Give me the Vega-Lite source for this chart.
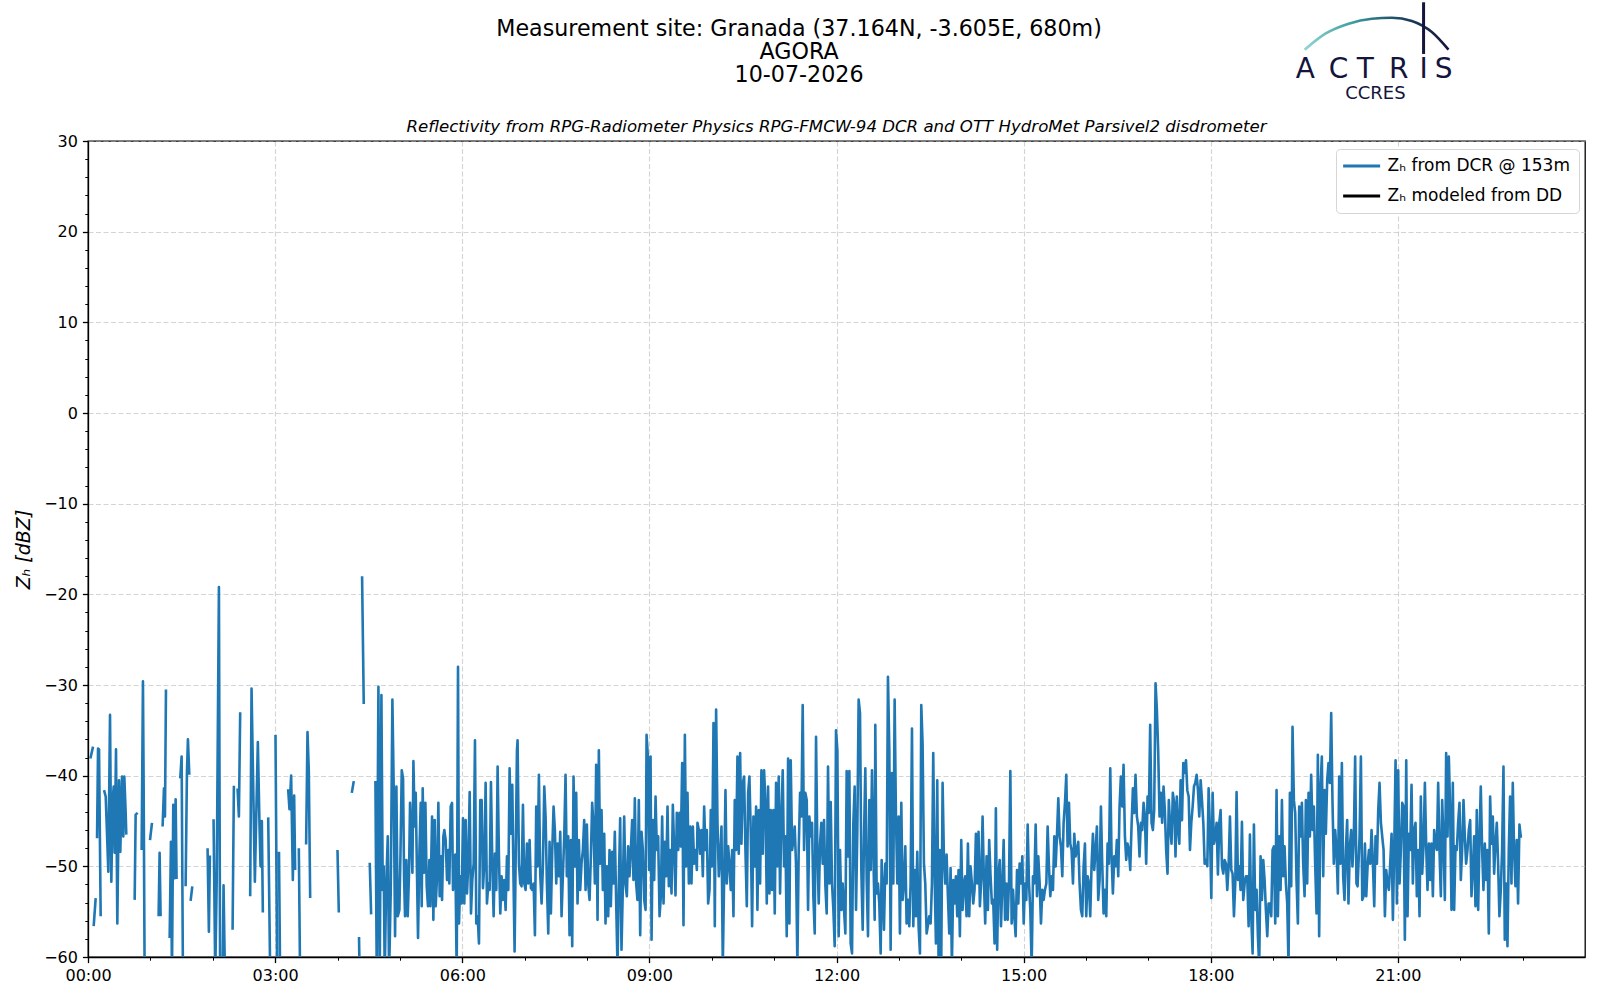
{
  "$schema": "https://vega.github.io/schema/vega-lite/v6.json",
  "description": "Radar reflectivity time series, Granada AGORA, 10-07-2026.",
  "background": "white",
  "autosize": {"type": "none"},
  "width": 1497,
  "height": 816,
  "padding": {"left": 88, "top": 141, "right": 15, "bottom": 43},
  "config": {
    "font": "DejaVu Sans",
    "view": {"stroke": "#000000", "strokeWidth": 1.3},
    "axis": {
      "domainColor": "#000000",
      "domainWidth": 1.3,
      "tickColor": "#000000",
      "tickWidth": 1.3,
      "tickSize": 5.6,
      "labelFont": "DejaVu Sans",
      "labelFontSize": 16,
      "labelColor": "#000000",
      "labelPadding": 5,
      "gridColor": "#b0b0b0",
      "gridOpacity": 0.55,
      "gridDash": [5, 2.5],
      "gridWidth": 1.1,
      "titleColor": "#000000",
      "titleFont": "DejaVu Sans"
    },
    "text": {"font": "DejaVu Sans"}
  },
  "resolve": {"axis": {"x": "independent", "y": "independent"}},
  "datasets": {
    "zh": [
      {"h":0.038,"z":-38.1},{"h":0.081,"z":-36.8},{"h":0.085,"z":null},
      {"h":0.091,"z":-56.6},{"h":0.123,"z":-53.5},{"h":0.13,"z":null},
      {"h":0.145,"z":-46.9},{"h":0.161,"z":-37.0},{"h":0.177,"z":-37.1},{"h":0.203,"z":-55.5},{"h":0.23,"z":null},
      {"h":0.257,"z":-41.6},{"h":0.284,"z":-42.3},{"h":0.326,"z":-50.6},{"h":0.353,"z":-33.3},{"h":0.374,"z":-51.7},{"h":0.396,"z":-42.7},{"h":0.412,"z":-41.2},{"h":0.428,"z":-48.5},{"h":0.449,"z":-37.1},{"h":0.47,"z":-56.3},{"h":0.497,"z":-40.5},{"h":0.518,"z":-48.4},{"h":0.545,"z":-40.1},{"h":0.566,"z":-46.7},{"h":0.582,"z":-40.1},{"h":0.604,"z":-44.1},{"h":0.614,"z":-46.5},{"h":0.68,"z":null},
      {"h":0.748,"z":-53.7},{"h":0.764,"z":-44.3},{"h":0.796,"z":-44.1},{"h":0.83,"z":null},
      {"h":0.86,"z":-48.2},{"h":0.881,"z":-29.6},{"h":0.892,"z":-41.0},{"h":0.908,"z":-62},{"h":0.95,"z":null},
      {"h":0.994,"z":-47.1},{"h":1.026,"z":-45.2},{"h":1.08,"z":null},
      {"h":1.132,"z":-55.5},{"h":1.148,"z":-48.5},{"h":1.164,"z":-55.5},{"h":1.18,"z":null},
      {"h":1.196,"z":-45.6},{"h":1.218,"z":-41.4},{"h":1.234,"z":-44.5},{"h":1.25,"z":-30.5},{"h":1.28,"z":null},
      {"h":1.309,"z":-57.9},{"h":1.33,"z":-47.3},{"h":1.346,"z":-62},{"h":1.367,"z":-43.2},{"h":1.389,"z":-51.3},{"h":1.405,"z":-42.6},{"h":1.42,"z":-51.4},{"h":1.45,"z":null},
      {"h":1.479,"z":-40.3},{"h":1.501,"z":-37.9},{"h":1.522,"z":-62},{"h":1.54,"z":null},
      {"h":1.565,"z":-52.2},{"h":1.586,"z":-39.7},{"h":1.602,"z":-36.0},{"h":1.624,"z":-39.9},{"h":1.635,"z":null},
      {"h":1.645,"z":-53.8},{"h":1.672,"z":-52.2},{"h":1.8,"z":null},
      {"h":1.917,"z":-48.0},{"h":1.938,"z":-57.2},{"h":1.954,"z":-48.8},{"h":1.98,"z":null},
      {"h":2.013,"z":-44.8},{"h":2.04,"z":-62},{"h":2.063,"z":-51.8},{"h":2.099,"z":-19.2},{"h":2.118,"z":-62},{"h":2.14,"z":null},
      {"h":2.16,"z":-62},{"h":2.173,"z":-52.1},{"h":2.195,"z":-62},{"h":2.25,"z":null},
      {"h":2.318,"z":-57.0},{"h":2.339,"z":-41.1},{"h":2.37,"z":null},
      {"h":2.398,"z":-41.4},{"h":2.419,"z":-44.5},{"h":2.44,"z":-33.0},{"h":2.5,"z":null},
      {"h":2.6,"z":-53.3},{"h":2.622,"z":-30.4},{"h":2.675,"z":-51.7},{"h":2.723,"z":-36.3},{"h":2.75,"z":-45.6},{"h":2.766,"z":-50.0},{"h":2.787,"z":-45.0},{"h":2.803,"z":-55.1},{"h":2.85,"z":null},
      {"h":2.889,"z":-44.6},{"h":2.921,"z":-62},{"h":2.96,"z":null},
      {"h":3.006,"z":-35.5},{"h":3.033,"z":-62},{"h":3.05,"z":null},
      {"h":3.062,"z":-48.4},{"h":3.08,"z":-62},{"h":3.15,"z":null},
      {"h":3.209,"z":-41.5},{"h":3.23,"z":-43.7},{"h":3.257,"z":-40.0},{"h":3.284,"z":-51.5},{"h":3.305,"z":-42.2},{"h":3.321,"z":-50.4},{"h":3.35,"z":null},
      {"h":3.38,"z":-48.0},{"h":3.4,"z":-62},{"h":3.45,"z":null},
      {"h":3.497,"z":-47.6},{"h":3.519,"z":-35.2},{"h":3.54,"z":-39.5},{"h":3.562,"z":-53.5},{"h":3.7,"z":null},
      {"h":4.0,"z":-48.2},{"h":4.021,"z":-55.1},{"h":4.1,"z":null},
      {"h":4.229,"z":-41.9},{"h":4.261,"z":-40.6},{"h":4.3,"z":null},
      {"h":4.345,"z":-57.8},{"h":4.355,"z":-62},{"h":4.37,"z":null},
      {"h":4.394,"z":-18.0},{"h":4.421,"z":-32.1},{"h":4.47,"z":null},
      {"h":4.517,"z":-49.6},{"h":4.539,"z":-55.3},{"h":4.58,"z":null},
      {"h":4.608,"z":-40.6},{"h":4.629,"z":-62},{"h":4.656,"z":-30.2},{"h":4.677,"z":-62},{"h":4.704,"z":-31.1},{"h":4.725,"z":-52.6},{"h":4.741,"z":-50.0},{"h":4.757,"z":-62},{"h":4.779,"z":-52.6},{"h":4.806,"z":-46.7},{"h":4.827,"z":-62},{"h":4.854,"z":-52.6},{"h":4.88,"z":-31.6},{"h":4.902,"z":-41.7},{"h":4.923,"z":-57.7},{"h":4.944,"z":-41.2},{"h":4.966,"z":-55.5},{"h":4.992,"z":-54.8},{"h":5.008,"z":-49.3},{"h":5.03,"z":-39.4},{"h":5.051,"z":-40.3},{"h":5.067,"z":-51.1},{"h":5.083,"z":-55.5},{"h":5.104,"z":-49.3},{"h":5.126,"z":-55.5},{"h":5.147,"z":-50.7},{"h":5.163,"z":-43.0},{"h":5.179,"z":-46.0},{"h":5.201,"z":-50.7},{"h":5.217,"z":-38.4},{"h":5.238,"z":-45.6},{"h":5.254,"z":-41.9},{"h":5.275,"z":-51.1},{"h":5.291,"z":-57.9},{"h":5.313,"z":-48.5},{"h":5.334,"z":-43.0},{"h":5.35,"z":-54.4},{"h":5.366,"z":-41.4},{"h":5.387,"z":-50.7},{"h":5.409,"z":-43.0},{"h":5.43,"z":-52.2},{"h":5.451,"z":-54.4},{"h":5.473,"z":-49.3},{"h":5.489,"z":-54.4},{"h":5.516,"z":-44.5},{"h":5.537,"z":-55.9},{"h":5.558,"z":-44.9},{"h":5.574,"z":-54.4},{"h":5.596,"z":-51.1},{"h":5.617,"z":-43.0},{"h":5.638,"z":-53.3},{"h":5.66,"z":-48.9},{"h":5.676,"z":-53.7},{"h":5.697,"z":-46.7},{"h":5.713,"z":-46.0},{"h":5.734,"z":-47.1},{"h":5.756,"z":-51.5},{"h":5.777,"z":-48.2},{"h":5.793,"z":-51.9},{"h":5.815,"z":-43.4},{"h":5.836,"z":-43.0},{"h":5.852,"z":-52.6},{"h":5.873,"z":-49.3},{"h":5.889,"z":-48.7},{"h":5.911,"z":-62},{"h":5.932,"z":-28.0},
      {"h":5.948,"z":-56.3},{"h":5.969,"z":-51.1},{"h":5.99,"z":-54.1},{"h":6.012,"z":-44.7},{"h":6.033,"z":-54.1},{"h":6.055,"z":-44.9},{"h":6.076,"z":-53.0},{"h":6.097,"z":-49.7},{"h":6.119,"z":-41.8},{"h":6.14,"z":-55.2},{"h":6.161,"z":-51.5},{"h":6.183,"z":-49.7},{"h":6.204,"z":-36.1},{"h":6.225,"z":-56.3},{"h":6.247,"z":-55.5},{"h":6.268,"z":-58.5},{"h":6.289,"z":-42.7},{"h":6.311,"z":-42.7},{"h":6.332,"z":-52.4},{"h":6.354,"z":-49.7},{"h":6.375,"z":-40.8},{"h":6.396,"z":-54.1},{"h":6.418,"z":-51.9},{"h":6.439,"z":-52.6},{"h":6.46,"z":-40.7},{"h":6.482,"z":-49.7},{"h":6.503,"z":-55.5},{"h":6.524,"z":-48.6},{"h":6.546,"z":-52.6},{"h":6.567,"z":-39.0},{"h":6.588,"z":-48.9},{"h":6.61,"z":-55.2},{"h":6.631,"z":-51.1},{"h":6.652,"z":-53.7},{"h":6.674,"z":-51.5},{"h":6.695,"z":-54.8},{"h":6.717,"z":-48.9},{"h":6.738,"z":-52.6},{"h":6.759,"z":-39.2},{"h":6.781,"z":-46.4},{"h":6.802,"z":-41.0},{"h":6.823,"z":-51.9},{"h":6.839,"z":-59.4},{"h":6.855,"z":-50.0},{"h":6.877,"z":-37.2},{"h":6.887,"z":-36.1},{"h":6.909,"z":-49.7},{"h":6.93,"z":-51.9},{"h":6.951,"z":-52.2},{"h":6.973,"z":-43.2},{"h":6.994,"z":-51.9},{"h":7.016,"z":-52.6},{"h":7.037,"z":-47.5},{"h":7.058,"z":-51.9},{"h":7.08,"z":-47.1},{"h":7.101,"z":-52.4},{"h":7.122,"z":-52.6},{"h":7.144,"z":-51.9},{"h":7.165,"z":-57.6},{"h":7.186,"z":-43.4},{"h":7.208,"z":-50.0},{"h":7.229,"z":-39.9},{"h":7.25,"z":-50.8},{"h":7.272,"z":-54.1},{"h":7.293,"z":-50.0},{"h":7.315,"z":-41.2},{"h":7.336,"z":-44.5},{"h":7.357,"z":-51.9},{"h":7.379,"z":-57.4},{"h":7.4,"z":-47.3},{"h":7.421,"z":-55.2},{"h":7.443,"z":-48.2},{"h":7.464,"z":-43.4},{"h":7.485,"z":-46.0},{"h":7.507,"z":-51.9},{"h":7.528,"z":-47.5},{"h":7.549,"z":-51.1},{"h":7.571,"z":-46.2},{"h":7.592,"z":-55.5},{"h":7.613,"z":-51.1},{"h":7.635,"z":-46.7},{"h":7.656,"z":-39.9},{"h":7.677,"z":-51.1},{"h":7.699,"z":-46.7},{"h":7.72,"z":-57.6},{"h":7.742,"z":-47.1},{"h":7.763,"z":-58.8},{"h":7.784,"z":-40.1},{"h":7.806,"z":-50.0},{"h":7.827,"z":-41.9},{"h":7.848,"z":-54.1},{"h":7.87,"z":-47.1},{"h":7.891,"z":-52.6},{"h":7.912,"z":-49.7},{"h":7.934,"z":-48.2},{"h":7.955,"z":-44.9},{"h":7.977,"z":-52.6},{"h":7.998,"z":-45.4},{"h":8.019,"z":-51.9},{"h":8.041,"z":-53.7},{"h":8.062,"z":-48.9},{"h":8.083,"z":-43.0},{"h":8.105,"z":-45.6},{"h":8.126,"z":-51.9},{"h":8.147,"z":-38.8},{"h":8.169,"z":-55.9},{"h":8.19,"z":-37.2},{"h":8.211,"z":-49.7},{"h":8.233,"z":-43.8},{"h":8.254,"z":-52.6},{"h":8.276,"z":-46.4},{"h":8.297,"z":-56.3},{"h":8.318,"z":-50.0},{"h":8.34,"z":-55.5},{"h":8.361,"z":-48.2},{"h":8.382,"z":-54.4},{"h":8.404,"z":-48.4},{"h":8.425,"z":-51.9},{"h":8.446,"z":-46.2},{"h":8.468,"z":-54.1},{"h":8.489,"z":-61},{"h":8.51,"z":-51.9},{"h":8.532,"z":-44.7},{"h":8.553,"z":-59.2},{"h":8.575,"z":-52.2},{"h":8.596,"z":-44.5},{"h":8.617,"z":-51.9},{"h":8.639,"z":-53.3},{"h":8.66,"z":-47.8},{"h":8.681,"z":-51.1},{"h":8.703,"z":-48.2},{"h":8.724,"z":-44.9},{"h":8.745,"z":-51.5},{"h":8.767,"z":-42.5},{"h":8.788,"z":-51.9},{"h":8.809,"z":-53.7},{"h":8.831,"z":-42.7},
      {"h":8.853,"z":-57.6},{"h":8.874,"z":-46.2},{"h":8.896,"z":-48.2},{"h":8.917,"z":-53.7},{"h":8.939,"z":-54.8},{"h":8.955,"z":-35.5},{"h":8.976,"z":-37.9},{"h":8.997,"z":-50.4},{"h":9.019,"z":-37.9},{"h":9.035,"z":-58.1},{"h":9.056,"z":-44.9},{"h":9.077,"z":-51.5},{"h":9.099,"z":-42.3},{"h":9.12,"z":-48.2},{"h":9.141,"z":-46.7},{"h":9.163,"z":-55.5},{"h":9.184,"z":-53.3},{"h":9.205,"z":-44.5},{"h":9.227,"z":-54.1},{"h":9.248,"z":-47.3},{"h":9.27,"z":-51.1},{"h":9.291,"z":-43.4},{"h":9.312,"z":-52.2},{"h":9.334,"z":-48.2},{"h":9.355,"z":-53.0},{"h":9.376,"z":-43.2},{"h":9.398,"z":-48.2},{"h":9.419,"z":-53.2},{"h":9.44,"z":-44.1},{"h":9.462,"z":-48.2},{"h":9.483,"z":-44.1},{"h":9.504,"z":-47.8},{"h":9.526,"z":-38.6},{"h":9.547,"z":-56.5},{"h":9.569,"z":-35.5},{"h":9.59,"z":-50.0},{"h":9.611,"z":-41.9},{"h":9.633,"z":-51.9},{"h":9.654,"z":-45.6},{"h":9.675,"z":-51.9},{"h":9.697,"z":-45.6},{"h":9.718,"z":-49.7},{"h":9.739,"z":-48.2},{"h":9.761,"z":-50.4},{"h":9.771,"z":-45.2},{"h":9.793,"z":-46.0},{"h":9.814,"z":-48.6},{"h":9.835,"z":-46.0},{"h":9.857,"z":-51.1},{"h":9.878,"z":-43.4},{"h":9.9,"z":-48.2},{"h":9.921,"z":-46.0},{"h":9.942,"z":-54.1},{"h":9.964,"z":-52.6},{"h":9.985,"z":-43.8},{"h":10.006,"z":-50.0},{"h":10.028,"z":-34.2},{"h":10.049,"z":-56.6},{"h":10.07,"z":-32.7},{"h":10.092,"z":-45.2},{"h":10.113,"z":-51.1},{"h":10.134,"z":-48.9},{"h":10.156,"z":-45.6},{"h":10.177,"z":-61},{"h":10.199,"z":-51.1},{"h":10.22,"z":-41.6},{"h":10.241,"z":-51.9},{"h":10.263,"z":-47.8},{"h":10.284,"z":-49.7},{"h":10.305,"z":-52.6},{"h":10.327,"z":-48.2},{"h":10.348,"z":-55.5},{"h":10.369,"z":-42.7},{"h":10.391,"z":-48.2},{"h":10.412,"z":-37.9},{"h":10.433,"z":-48.6},{"h":10.455,"z":-37.5},{"h":10.476,"z":-47.5},{"h":10.497,"z":-40.8},{"h":10.519,"z":-40.1},{"h":10.54,"z":-48.2},{"h":10.562,"z":-54.4},{"h":10.583,"z":-41.9},{"h":10.604,"z":-40.1},{"h":10.626,"z":-46.4},{"h":10.647,"z":-56.6},{"h":10.668,"z":-44.5},{"h":10.69,"z":-50.0},{"h":10.711,"z":-43.4},{"h":10.732,"z":-54.8},{"h":10.754,"z":-43.8},{"h":10.775,"z":-51.9},{"h":10.796,"z":-39.4},{"h":10.818,"z":-48.6},{"h":10.839,"z":-39.4},{"h":10.861,"z":-43.0},{"h":10.882,"z":-54.1},{"h":10.903,"z":-41.2},{"h":10.925,"z":-53.0},{"h":10.946,"z":-43.8},{"h":10.967,"z":-52.6},{"h":10.989,"z":-43.8},{"h":11.01,"z":-55.2},{"h":11.031,"z":-40.8},{"h":11.053,"z":-50.0},{"h":11.074,"z":-40.1},{"h":11.095,"z":-53.0},{"h":11.117,"z":-44.5},{"h":11.138,"z":-39.4},{"h":11.159,"z":-50.0},{"h":11.181,"z":-46.7},{"h":11.202,"z":-57.7},{"h":11.224,"z":-38.1},{"h":11.245,"z":-56.3},{"h":11.266,"z":-38.3},{"h":11.288,"z":-48.2},{"h":11.309,"z":-47.1},{"h":11.33,"z":-45.6},{"h":11.352,"z":-50.0},{"h":11.373,"z":-61},{"h":11.394,"z":-48.2},{"h":11.416,"z":-41.9},{"h":11.437,"z":-44.5},{"h":11.458,"z":-32.2},{"h":11.48,"z":-48.2},{"h":11.501,"z":-41.9},{"h":11.523,"z":-42.7},{"h":11.544,"z":-54.8},{"h":11.565,"z":-44.5},{"h":11.587,"z":-46.7},{"h":11.608,"z":-45.2},{"h":11.629,"z":-53.3},{"h":11.651,"z":-57.4},{"h":11.672,"z":-35.7},{"h":11.693,"z":-48.2},{"h":11.715,"z":-54.1},
      {"h":11.736,"z":-47.5},{"h":11.757,"z":-45.2},{"h":11.779,"z":-49.7},{"h":11.8,"z":-44.9},{"h":11.822,"z":-52.2},{"h":11.843,"z":-55.2},{"h":11.864,"z":-39.0},{"h":11.886,"z":-51.9},{"h":11.907,"z":-42.9},{"h":11.928,"z":-51.9},{"h":11.95,"z":-54.8},{"h":11.971,"z":-58.8},{"h":11.992,"z":-35.0},{"h":12.014,"z":-37.2},{"h":12.035,"z":-57.7},{"h":12.056,"z":-48.2},{"h":12.078,"z":-54.8},{"h":12.099,"z":-51.9},{"h":12.121,"z":-54.8},{"h":12.142,"z":-57.4},{"h":12.163,"z":-39.5},{"h":12.185,"z":-48.9},{"h":12.206,"z":-39.5},{"h":12.227,"z":-58.5},{"h":12.249,"z":-59.6},{"h":12.27,"z":-45.2},{"h":12.291,"z":-41.2},{"h":12.313,"z":-54.8},{"h":12.334,"z":-46.0},{"h":12.355,"z":-31.6},{"h":12.377,"z":-33.1},{"h":12.398,"z":-50.4},{"h":12.42,"z":-57.0},{"h":12.441,"z":-46.7},{"h":12.462,"z":-39.2},{"h":12.484,"z":-51.5},{"h":12.505,"z":-57.7},{"h":12.526,"z":-42.7},{"h":12.548,"z":-50.4},{"h":12.569,"z":-39.4},{"h":12.59,"z":-48.2},{"h":12.612,"z":-55.9},{"h":12.622,"z":-34.4},{"h":12.644,"z":-53.0},{"h":12.665,"z":-51.9},{"h":12.686,"z":-54.1},{"h":12.708,"z":-59.6},{"h":12.724,"z":-49.3},{"h":12.74,"z":-51.9},{"h":12.761,"z":-57.0},{"h":12.783,"z":-49.7},{"h":12.804,"z":-51.9},{"h":12.825,"z":-29.1},{"h":12.847,"z":-37.2},{"h":12.868,"z":-59.2},{"h":12.889,"z":-39.7},{"h":12.911,"z":-51.9},{"h":12.932,"z":-31.6},{"h":12.953,"z":-44.5},{"h":12.975,"z":-51.9},{"h":12.996,"z":-44.5},{"h":13.017,"z":-57.4},{"h":13.039,"z":-43.0},{"h":13.06,"z":-53.7},{"h":13.082,"z":-51.9},{"h":13.103,"z":-47.8},{"h":13.124,"z":-56.3},{"h":13.146,"z":-53.7},{"h":13.167,"z":-56.6},{"h":13.188,"z":-51.9},{"h":13.21,"z":-34.8},{"h":13.231,"z":-56.6},{"h":13.252,"z":-50.4},{"h":13.274,"z":-55.5},{"h":13.295,"z":-48.4},{"h":13.316,"z":-56.6},{"h":13.338,"z":-59.6},{"h":13.359,"z":-32.2},{"h":13.38,"z":-36.4},{"h":13.402,"z":-49.7},{"h":13.423,"z":-51.9},{"h":13.445,"z":-57.4},{"h":13.466,"z":-56.5},{"h":13.487,"z":-55.5},{"h":13.509,"z":-56.3},{"h":13.53,"z":-51.9},{"h":13.551,"z":-37.5},{"h":13.573,"z":-51.1},{"h":13.594,"z":-58.5},{"h":13.615,"z":-40.5},{"h":13.637,"z":-61},{"h":13.658,"z":-48.2},{"h":13.679,"z":-61},{"h":13.701,"z":-40.8},{"h":13.722,"z":-48.9},{"h":13.744,"z":-51.9},{"h":13.765,"z":-48.7},{"h":13.786,"z":-53.3},{"h":13.808,"z":-57.4},{"h":13.829,"z":-50.2},{"h":13.85,"z":-61},{"h":13.872,"z":-51.5},{"h":13.893,"z":-54.1},{"h":13.914,"z":-51.1},{"h":13.936,"z":-55.5},{"h":13.957,"z":-50.4},{"h":13.978,"z":-57.7},{"h":14.0,"z":-47.1},{"h":14.021,"z":-54.8},{"h":14.043,"z":-51.9},{"h":14.064,"z":-51.1},{"h":14.085,"z":-55.5},{"h":14.107,"z":-47.5},{"h":14.128,"z":-55.5},{"h":14.149,"z":-50.0},{"h":14.171,"z":-51.9},{"h":14.192,"z":-54.1},{"h":14.213,"z":-52.6},{"h":14.235,"z":-46.4},{"h":14.256,"z":-51.9},{"h":14.277,"z":-46.2},{"h":14.299,"z":-54.4},{"h":14.32,"z":-51.5},{"h":14.342,"z":-44.5},{"h":14.363,"z":-51.5},{"h":14.384,"z":-56.3},{"h":14.406,"z":-48.9},{"h":14.427,"z":-54.8},{"h":14.448,"z":-47.1},{"h":14.47,"z":-51.1},{"h":14.491,"z":-54.1},{"h":14.512,"z":-53.7},{"h":14.534,"z":-58.5},{"h":14.555,"z":-43.6},{"h":14.576,"z":-59.2},
      {"h":14.595,"z":-51.1},{"h":14.616,"z":-49.3},{"h":14.637,"z":-56.6},{"h":14.659,"z":-51.9},{"h":14.68,"z":-47.1},{"h":14.702,"z":-55.9},{"h":14.723,"z":-51.9},{"h":14.744,"z":-55.9},{"h":14.766,"z":-51.5},{"h":14.787,"z":-39.5},{"h":14.808,"z":-56.3},{"h":14.83,"z":-52.6},{"h":14.851,"z":-55.5},{"h":14.872,"z":-57.7},{"h":14.894,"z":-50.4},{"h":14.915,"z":-54.1},{"h":14.936,"z":-49.7},{"h":14.958,"z":-51.9},{"h":14.979,"z":-48.9},{"h":15.001,"z":-56.3},{"h":15.022,"z":-51.9},{"h":15.043,"z":-53.7},{"h":15.065,"z":-45.4},{"h":15.086,"z":-51.9},{"h":15.107,"z":-54.8},{"h":15.129,"z":-61},{"h":15.15,"z":-51.1},{"h":15.171,"z":-51.9},{"h":15.193,"z":-45.4},{"h":15.214,"z":-53.3},{"h":15.235,"z":-48.9},{"h":15.257,"z":-51.9},{"h":15.278,"z":-56.3},{"h":15.3,"z":-52.6},{"h":15.321,"z":-53.7},{"h":15.342,"z":-52.6},{"h":15.364,"z":-51.9},{"h":15.385,"z":-45.6},{"h":15.406,"z":-50.0},{"h":15.428,"z":-53.3},{"h":15.449,"z":-51.1},{"h":15.47,"z":-52.6},{"h":15.492,"z":-46.7},{"h":15.513,"z":-50.0},{"h":15.534,"z":-46.7},{"h":15.556,"z":-42.5},{"h":15.577,"z":-46.7},{"h":15.598,"z":-47.8},{"h":15.62,"z":-51.1},{"h":15.641,"z":-45.2},{"h":15.663,"z":-43.0},{"h":15.684,"z":-39.9},{"h":15.705,"z":-47.8},{"h":15.727,"z":-43.0},{"h":15.748,"z":-47.5},{"h":15.769,"z":-48.2},{"h":15.791,"z":-51.9},{"h":15.812,"z":-46.4},{"h":15.833,"z":-48.9},{"h":15.855,"z":-48.2},{"h":15.876,"z":-47.3},{"h":15.897,"z":-51.9},{"h":15.919,"z":-54.8},{"h":15.94,"z":-55.5},{"h":15.962,"z":-50.0},{"h":15.983,"z":-47.5},{"h":16.004,"z":-55.5},{"h":16.026,"z":-51.1},{"h":16.047,"z":-51.9},{"h":16.068,"z":-55.5},{"h":16.09,"z":-49.7},{"h":16.111,"z":-46.4},{"h":16.132,"z":-50.4},{"h":16.154,"z":-48.2},{"h":16.175,"z":-45.6},{"h":16.196,"z":-53.7},{"h":16.218,"z":-51.5},{"h":16.239,"z":-43.4},{"h":16.26,"z":-49.7},{"h":16.282,"z":-55.2},{"h":16.303,"z":-52.6},{"h":16.325,"z":-55.5},{"h":16.346,"z":-47.5},{"h":16.367,"z":-49.7},{"h":16.389,"z":-39.2},{"h":16.41,"z":-48.9},{"h":16.431,"z":-53.0},{"h":16.453,"z":-48.9},{"h":16.474,"z":-50.0},{"h":16.495,"z":-47.1},{"h":16.517,"z":-51.1},{"h":16.538,"z":-43.4},{"h":16.559,"z":-40.1},{"h":16.581,"z":-43.4},{"h":16.602,"z":-38.8},{"h":16.624,"z":-46.7},{"h":16.645,"z":-49.3},{"h":16.666,"z":-47.5},{"h":16.688,"z":-48.2},{"h":16.709,"z":-50.4},{"h":16.73,"z":-45.6},{"h":16.752,"z":-41.4},{"h":16.773,"z":-44.1},{"h":16.794,"z":-39.9},{"h":16.816,"z":-44.5},{"h":16.837,"z":-45.6},{"h":16.858,"z":-48.9},{"h":16.88,"z":-45.2},{"h":16.901,"z":-46.0},{"h":16.923,"z":-43.0},{"h":16.944,"z":-44.5},{"h":16.965,"z":-49.7},{"h":16.987,"z":-42.3},{"h":17.008,"z":-44.1},{"h":17.029,"z":-34.4},{"h":17.051,"z":-45.2},{"h":17.072,"z":-46.0},{"h":17.093,"z":-43.8},{"h":17.115,"z":-29.8},{"h":17.136,"z":-32.7},{"h":17.157,"z":-37.2},{"h":17.179,"z":-44.5},{"h":17.2,"z":-41.9},{"h":17.221,"z":-45.2},{"h":17.243,"z":-41.2},{"h":17.264,"z":-43.8},{"h":17.285,"z":-48.2},{"h":17.307,"z":-50.8},{"h":17.328,"z":-42.7},{"h":17.349,"z":-45.6},{"h":17.371,"z":-47.5},{"h":17.392,"z":-41.9},{"h":17.414,"z":-43.0},{"h":17.435,"z":-48.9},{"h":17.456,"z":-42.3},
      {"h":17.475,"z":-45.6},{"h":17.496,"z":-47.5},{"h":17.517,"z":-40.5},{"h":17.539,"z":-44.9},{"h":17.56,"z":-38.6},{"h":17.582,"z":-39.7},{"h":17.603,"z":-38.3},{"h":17.624,"z":-41.6},{"h":17.646,"z":-42.3},{"h":17.667,"z":-48.2},{"h":17.688,"z":-45.2},{"h":17.71,"z":-43.4},{"h":17.731,"z":-41.2},{"h":17.752,"z":-40.8},{"h":17.774,"z":-39.9},{"h":17.795,"z":-41.6},{"h":17.816,"z":-44.5},{"h":17.838,"z":-40.5},{"h":17.859,"z":-42.7},{"h":17.881,"z":-45.2},{"h":17.902,"z":-49.7},{"h":17.923,"z":-49.3},{"h":17.945,"z":-50.0},{"h":17.966,"z":-41.4},{"h":17.987,"z":-46.0},{"h":18.009,"z":-53.5},{"h":18.03,"z":-41.9},{"h":18.051,"z":-47.5},{"h":18.073,"z":-46.7},{"h":18.094,"z":-45.2},{"h":18.115,"z":-50.9},{"h":18.137,"z":-45.2},{"h":18.158,"z":-43.8},{"h":18.18,"z":-50.0},{"h":18.201,"z":-50.8},{"h":18.222,"z":-49.3},{"h":18.244,"z":-49.7},{"h":18.265,"z":-52.6},{"h":18.286,"z":-50.0},{"h":18.308,"z":-44.5},{"h":18.329,"z":-50.4},{"h":18.35,"z":-50.8},{"h":18.372,"z":-55.5},{"h":18.393,"z":-51.9},{"h":18.414,"z":-41.8},{"h":18.436,"z":-51.5},{"h":18.457,"z":-50.0},{"h":18.478,"z":-52.6},{"h":18.5,"z":-45.1},{"h":18.521,"z":-53.7},{"h":18.543,"z":-51.9},{"h":18.564,"z":-51.1},{"h":18.585,"z":-51.1},{"h":18.607,"z":-56.6},{"h":18.628,"z":-46.5},{"h":18.649,"z":-55.5},{"h":18.671,"z":-59.6},{"h":18.692,"z":-45.4},{"h":18.713,"z":-54.8},{"h":18.735,"z":-52.6},{"h":18.756,"z":-57.7},{"h":18.777,"z":-61},{"h":18.799,"z":-48.9},{"h":18.82,"z":-53.7},{"h":18.842,"z":-49.3},{"h":18.863,"z":-51.5},{"h":18.884,"z":-54.8},{"h":18.906,"z":-57.7},{"h":18.927,"z":-54.1},{"h":18.948,"z":-54.1},{"h":18.97,"z":-55.5},{"h":18.991,"z":-48.2},{"h":19.012,"z":-47.8},{"h":19.034,"z":-56.3},{"h":19.055,"z":-41.6},{"h":19.076,"z":-55.5},{"h":19.098,"z":-46.7},{"h":19.119,"z":-52.6},{"h":19.141,"z":-42.7},{"h":19.162,"z":-51.1},{"h":19.183,"z":-47.8},{"h":19.205,"z":-51.9},{"h":19.226,"z":-54.1},{"h":19.247,"z":-61},{"h":19.269,"z":-41.9},{"h":19.29,"z":-52.2},{"h":19.311,"z":-34.6},{"h":19.333,"z":-42.7},{"h":19.354,"z":-44.1},{"h":19.375,"z":-51.5},{"h":19.397,"z":-56.3},{"h":19.418,"z":-43.4},{"h":19.439,"z":-46.7},{"h":19.461,"z":-43.0},{"h":19.482,"z":-49.7},{"h":19.504,"z":-53.3},{"h":19.525,"z":-42.7},{"h":19.546,"z":-51.9},{"h":19.568,"z":-41.9},{"h":19.589,"z":-46.7},{"h":19.61,"z":-39.9},{"h":19.632,"z":-46.0},{"h":19.653,"z":-43.4},{"h":19.674,"z":-49.7},{"h":19.696,"z":-55.2},{"h":19.717,"z":-37.7},{"h":19.738,"z":-57.7},{"h":19.76,"z":-41.2},{"h":19.781,"z":-37.9},{"h":19.803,"z":-51.1},{"h":19.824,"z":-41.6},{"h":19.845,"z":-46.4},{"h":19.867,"z":-40.5},{"h":19.888,"z":-38.6},{"h":19.909,"z":-40.8},{"h":19.931,"z":-33.1},{"h":19.952,"z":-43.0},{"h":19.973,"z":-49.7},{"h":19.995,"z":-46.0},{"h":20.016,"z":-48.2},{"h":20.038,"z":-53.0},{"h":20.059,"z":-40.1},{"h":20.08,"z":-49.7},{"h":20.102,"z":-38.6},{"h":20.123,"z":-51.1},{"h":20.144,"z":-53.7},{"h":20.166,"z":-48.2},{"h":20.187,"z":-44.9},{"h":20.208,"z":-54.1},{"h":20.23,"z":-47.8},{"h":20.251,"z":-46.0},{"h":20.272,"z":-50.0},{"h":20.294,"z":-46.7},{"h":20.315,"z":-37.9},{"h":20.336,"z":-51.9},
      {"h":20.354,"z":-52.2},{"h":20.386,"z":-46.7},{"h":20.407,"z":-37.9},{"h":20.429,"z":-53.7},{"h":20.45,"z":-53.3},{"h":20.472,"z":-47.5},{"h":20.493,"z":-53.3},{"h":20.514,"z":-50.0},{"h":20.536,"z":-48.2},{"h":20.557,"z":-49.7},{"h":20.578,"z":-46.0},{"h":20.6,"z":-49.7},{"h":20.621,"z":-54.4},{"h":20.642,"z":-46.7},{"h":20.664,"z":-49.7},{"h":20.685,"z":-43.8},{"h":20.706,"z":-40.8},{"h":20.728,"z":-45.2},{"h":20.749,"z":-46.7},{"h":20.771,"z":-48.2},{"h":20.792,"z":-55.5},{"h":20.813,"z":-50.4},{"h":20.835,"z":-51.9},{"h":20.856,"z":-52.6},{"h":20.877,"z":-49.7},{"h":20.899,"z":-46.4},{"h":20.92,"z":-55.9},{"h":20.941,"z":-48.2},{"h":20.963,"z":-38.3},{"h":20.984,"z":-54.1},{"h":21.005,"z":-39.4},{"h":21.027,"z":-51.9},{"h":21.048,"z":-48.2},{"h":21.07,"z":-43.0},{"h":21.091,"z":-43.4},{"h":21.112,"z":-58.1},{"h":21.134,"z":-38.3},{"h":21.155,"z":-55.5},{"h":21.176,"z":-46.4},{"h":21.198,"z":-48.2},{"h":21.219,"z":-41.0},{"h":21.24,"z":-51.9},{"h":21.262,"z":-46.0},{"h":21.283,"z":-45.2},{"h":21.304,"z":-53.3},{"h":21.326,"z":-48.2},{"h":21.347,"z":-55.5},{"h":21.368,"z":-42.3},{"h":21.39,"z":-50.8},{"h":21.411,"z":-47.8},{"h":21.433,"z":-40.8},{"h":21.454,"z":-47.8},{"h":21.475,"z":-52.6},{"h":21.497,"z":-47.5},{"h":21.518,"z":-51.5},{"h":21.539,"z":-47.5},{"h":21.561,"z":-53.3},{"h":21.582,"z":-46.0},{"h":21.603,"z":-47.5},{"h":21.625,"z":-48.2},{"h":21.646,"z":-40.8},{"h":21.667,"z":-48.2},{"h":21.689,"z":-53.3},{"h":21.71,"z":-42.7},{"h":21.731,"z":-47.1},{"h":21.753,"z":-53.7},{"h":21.774,"z":-37.5},{"h":21.796,"z":-46.7},{"h":21.817,"z":-37.9},{"h":21.838,"z":-43.8},{"h":21.86,"z":-54.8},{"h":21.881,"z":-40.8},{"h":21.902,"z":-54.8},{"h":21.924,"z":-47.8},{"h":21.945,"z":-48.2},{"h":21.966,"z":-45.2},{"h":21.988,"z":-43.0},{"h":22.009,"z":-51.5},{"h":22.03,"z":-48.2},{"h":22.052,"z":-42.7},{"h":22.073,"z":-46.7},{"h":22.094,"z":-49.7},{"h":22.116,"z":-48.2},{"h":22.137,"z":-46.0},{"h":22.159,"z":-44.9},{"h":22.18,"z":-53.3},{"h":22.201,"z":-50.4},{"h":22.223,"z":-46.7},{"h":22.244,"z":-54.4},{"h":22.265,"z":-43.8},{"h":22.287,"z":-54.8},{"h":22.308,"z":-47.1},{"h":22.329,"z":-41.2},{"h":22.351,"z":-48.2},{"h":22.372,"z":-52.6},{"h":22.394,"z":-47.5},{"h":22.415,"z":-51.5},{"h":22.436,"z":-48.2},{"h":22.458,"z":-57.4},{"h":22.479,"z":-42.3},{"h":22.5,"z":-47.5},{"h":22.522,"z":-44.5},{"h":22.543,"z":-50.8},{"h":22.564,"z":-47.5},{"h":22.586,"z":-45.2},{"h":22.607,"z":-49.7},{"h":22.628,"z":-55.5},{"h":22.65,"z":-52.6},{"h":22.671,"z":-48.2},{"h":22.693,"z":-39.0},{"h":22.714,"z":-58.1},{"h":22.735,"z":-51.9},{"h":22.757,"z":-58.8},{"h":22.778,"z":-48.2},{"h":22.799,"z":-42.3},{"h":22.821,"z":-51.9},{"h":22.842,"z":-40.8},{"h":22.863,"z":-48.2},{"h":22.885,"z":-52.2},{"h":22.906,"z":-47.1},{"h":22.927,"z":-54.1},{"h":22.949,"z":-45.4},{"h":22.97,"z":-46.7},{"h":22.991,"z":-46.7}
    ],
    "letters": [
      {"c":"A","h":19.517},{"c":"C","h":20.05},{"c":"T","h":20.478},{"c":"R","h":21.012},{"c":"I","h":21.412},{"c":"S","h":21.732}
    ],
    "arc": [
      {"h":19.505,"z":40.07},{"h":19.837,"z":41.84},{"h":20.21,"z":42.94},{"h":20.583,"z":43.49},{"h":20.903,"z":43.6},{"h":21.224,"z":43.23},{"h":21.544,"z":42.01},{"h":21.811,"z":40.07}
    ]
  },
  "layer": [
    {
      "data": {"name": "zh"},
      "mark": {"type": "line", "strokeWidth": 2.6, "clip": true, "strokeJoin": "round", "invalid": "break-paths-filter-domains"},
      "encoding": {
        "x": {
          "field": "h", "type": "quantitative",
          "scale": {"domain": [0, 24], "nice": false, "zero": false},
          "axis": {"orient": "bottom", "title": null, "values": [0, 3, 6, 9, 12, 15, 18, 21], "labelExpr": "(datum.value < 10 ? '0' : '') + datum.value + ':00'", "labelFlush": false, "labelOverlap": false, "grid": true}
        },
        "y": {
          "field": "z", "type": "quantitative",
          "scale": {"domain": [-60, 30], "nice": false, "zero": false},
          "axis": {"orient": "left", "values": [-60, -50, -40, -30, -20, -10, 0, 10, 20, 30], "format": "d", "labelFlush": false, "grid": true,
                   "title": "Zₕ [dBZ]", "titleX": -65, "titleY": 408, "titleAngle": -90, "titleAlign": "center", "titleBaseline": "middle",
                   "titleFontSize": 19, "titleFontStyle": "italic", "titleFontWeight": "normal"}
        },
        "color": {
          "datum": "Zₕ from DCR @ 153m", "type": "nominal",
          "scale": {"domain": ["Zₕ from DCR @ 153m", "Zₕ modeled from DD"], "range": ["#1f77b4", "#000000"]},
          "legend": {"title": null, "orient": "none", "legendX": 1248, "legendY": 8, "symbolType": "M-1.6,0H4.4", "symbolSize": 152,
                     "symbolStrokeWidth": 2.8, "symbolFillColor": "transparent", "labelFontSize": 17, "labelFont": "DejaVu Sans", "labelColor": "#000000", "labelOffset": 26,
                     "labelLimit": 400, "rowPadding": 12, "padding": 8.5, "strokeColor": "#d5d5d5", "fillColor": "#ffffff", "cornerRadius": 4}
        }
      }
    },
    {
      "data": {"name": "zh"},
      "mark": {"type": "point", "opacity": 0},
      "encoding": {
        "x": {"field": "h", "type": "quantitative",
              "axis": {"orient": "bottom", "title": null, "values": [1, 2, 4, 5, 7, 8, 10, 11, 13, 14, 16, 17, 19, 20, 22, 23], "labels": false, "grid": false, "domain": false, "tickSize": 3.2, "tickWidth": 1}},
        "y": {"field": "z", "type": "quantitative",
              "axis": {"orient": "left", "title": null, "values": [-58, -56, -54, -52, -48, -46, -44, -42, -38, -36, -34, -32, -28, -26, -24, -22, -18, -16, -14, -12, -8, -6, -4, -2, 2, 4, 6, 8, 12, 14, 16, 18, 22, 24, 26, 28], "labels": false, "grid": false, "domain": false, "tickSize": 3.2, "tickWidth": 1}}
      }
    },
    {
      "data": {"values": [{"t": "Measurement site: Granada (37.164N, -3.605E, 680m)\nAGORA\n10-07-2026"}]},
      "mark": {"type": "text", "fontSize": 22.2, "lineHeight": 23, "lineBreak": "\n", "align": "center", "baseline": "alphabetic", "color": "#000000"},
      "encoding": {
        "x": {"datum": 11.4, "type": "quantitative", "axis": null},
        "y": {"datum": 41.6, "type": "quantitative", "axis": null},
        "text": {"field": "t"}
      }
    },
    {
      "data": {"values": [{"t": "Reflectivity from RPG-Radiometer Physics RPG-FMCW-94 DCR and OTT HydroMet Parsivel2 disdrometer"}]},
      "mark": {"type": "text", "fontSize": 16.6, "fontStyle": "italic", "align": "center", "baseline": "alphabetic", "color": "#000000"},
      "encoding": {
        "x": {"datum": 12, "type": "quantitative", "axis": null},
        "y": {"datum": 31.0, "type": "quantitative", "axis": null},
        "text": {"field": "t"}
      }
    },
    {
      "data": {"name": "arc"},
      "mark": {"type": "line", "strokeWidth": 2.6, "interpolate": "monotone",
               "stroke": {"gradient": "linear", "x1": 0, "y1": 0, "x2": 1, "y2": 0,
                          "stops": [{"offset": 0, "color": "#8fd6d0"}, {"offset": 0.35, "color": "#3a9a9e"}, {"offset": 0.65, "color": "#1d4a66"}, {"offset": 1, "color": "#14143c"}]}},
      "encoding": {
        "x": {"field": "h", "type": "quantitative", "axis": null},
        "y": {"field": "z", "type": "quantitative", "axis": null}
      }
    },
    {
      "data": {"values": [{}]},
      "mark": {"type": "rule", "color": "#14143c", "strokeWidth": 3},
      "encoding": {
        "x": {"datum": 21.412, "type": "quantitative", "axis": null},
        "y": {"datum": 45.3, "type": "quantitative", "axis": null},
        "y2": {"datum": 39.6}
      }
    },
    {
      "data": {"name": "letters"},
      "mark": {"type": "text", "fontSize": 28, "align": "center", "baseline": "alphabetic", "color": "#14143c"},
      "encoding": {
        "x": {"field": "h", "type": "quantitative", "axis": null},
        "y": {"datum": 37.0, "type": "quantitative", "axis": null},
        "text": {"field": "c"}
      }
    },
    {
      "data": {"values": [{"t": "CCRES"}]},
      "mark": {"type": "text", "fontSize": 18, "align": "center", "baseline": "alphabetic", "color": "#14143c"},
      "encoding": {
        "x": {"datum": 20.64, "type": "quantitative", "axis": null},
        "y": {"datum": 34.6, "type": "quantitative", "axis": null},
        "text": {"field": "t"}
      }
    }
  ]
}
